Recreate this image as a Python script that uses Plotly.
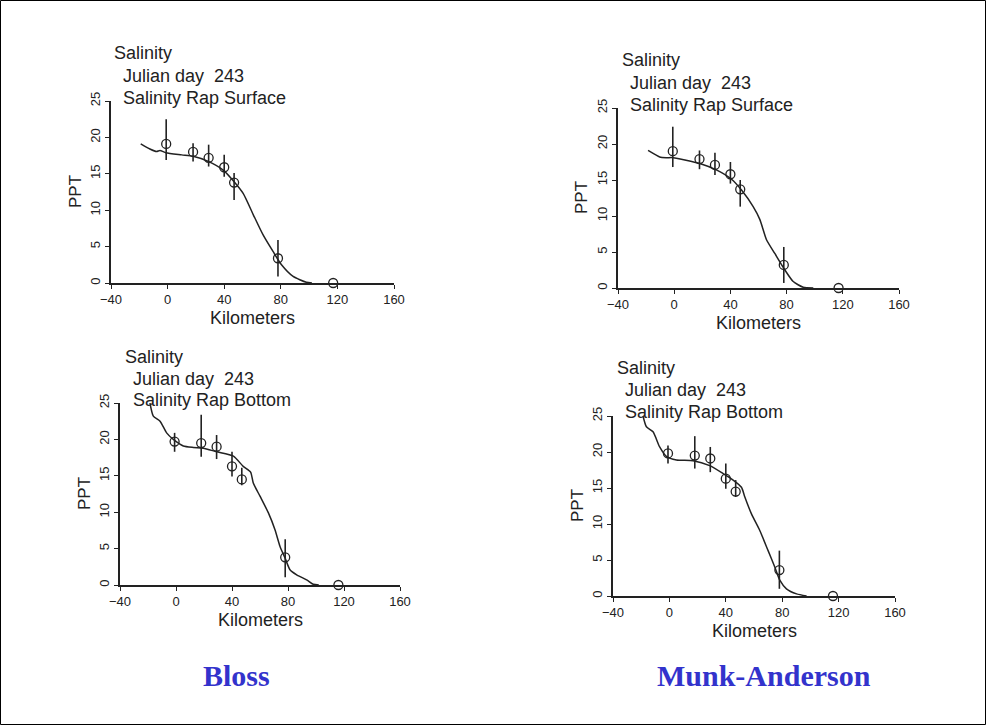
import plotly.graph_objects as go

W, H = 987, 726

# ---------------- data ----------------
x_ticks = [-40, 0, 40, 80, 120, 160]
y_ticks = [0, 5, 10, 15, 20, 25]

surf_obs_x = [-1, 18, 29, 40, 47, 78, 117]
bot_obs_x = [-1, 18, 29, 40, 47, 78, 116]

# Bloss, surface
bs_obs_y = [19.1, 18.0, 17.2, 15.9, 13.8, 3.4, 0.0]
bs_obs_hi = [22.5, 19.2, 19.0, 17.6, 15.1, 5.9, 0.0]
bs_obs_lo = [16.9, 16.7, 16.0, 14.6, 11.4, 0.9, 0.0]
bs_mod_x = [-19, -12.5, -7.8, -5.4, -1.2, 10, 18, 28.7, 39.3, 47, 53.4, 60.5, 67.5, 74.6, 80.5, 88.7, 98, 102]
bs_mod_y = [19.1, 18.4, 18.05, 18.2, 17.9, 17.6, 17.4, 16.7, 15.5, 13.9, 12.3, 9.4, 6.6, 4.3, 2.5, 0.9, 0.1, 0.0]

# Munk-Anderson, surface
ms_obs_y = [19.0, 17.9, 17.1, 15.8, 13.7, 3.2, 0.0]
ms_obs_hi = [22.4, 19.1, 18.8, 17.5, 15.0, 5.7, 0.0]
ms_obs_lo = [16.8, 16.5, 15.7, 14.5, 11.3, 0.7, 0.0]
ms_mod_x = [-18.6, -10.3, -5.6, -0.8, 18.2, 30, 40.8, 47.9, 56.2, 61, 65.7, 71.6, 78.8, 84.7, 91.8, 99]
ms_mod_y = [19.1, 18.2, 18.1, 18.1, 17.3, 16.4, 15.1, 13.6, 11.3, 9.5, 6.7, 4.8, 2.5, 0.9, 0.1, 0.0]

# Bloss, bottom
bb_obs_y = [19.7, 19.5, 19.0, 16.3, 14.5, 3.8, 0.0]
bb_obs_hi = [20.9, 23.4, 20.6, 18.3, 16.1, 6.3, 0.0]
bb_obs_lo = [18.3, 17.6, 17.3, 14.9, 13.7, 1.05, 0.0]
bb_mod_x = [-18.6, -16.2, -11.4, -6.7, -1.9, 5.2, 12.4, 19.5, 29, 41, 48, 53.3, 55.2, 60, 66, 70.7, 74.3, 77.9, 81.4, 86.2, 93.3, 98, 102]
bb_mod_y = [25, 23.2, 22.5, 20.9, 20.0, 19.1, 18.9, 18.8, 18.3, 17.7, 16.3, 15.5, 14.0, 12.2, 9.9, 7.6, 5.3, 3.7, 2.1, 1.4, 0.7, 0.1, 0.0]

# Munk-Anderson, bottom
mb_obs_y = [19.8, 19.5, 19.1, 16.3, 14.5, 3.6, 0.0]
mb_obs_hi = [20.9, 22.2, 20.7, 18.4, 16.1, 6.3, 0.0]
mb_obs_lo = [18.4, 17.7, 17.2, 14.9, 13.75, 1.0, 0.0]
mb_mod_x = [-18.7, -16.3, -11.6, -6.9, -2.2, 5, 16.8, 28.6, 38.1, 45.2, 51.1, 53.5, 58.2, 64.1, 70, 74.8, 78.3, 83, 90.2, 97.3]
mb_mod_y = [25, 23.5, 22.8, 20.7, 19.4, 18.9, 18.8, 18.1, 17.0, 16.1, 15.1, 13.75, 11.4, 9.1, 6.3, 4.0, 2.2, 1.0, 0.3, 0.0]

panel_titles = [
    ["Salinity", "Julian day\u00a0 243", "Salinity Rap Surface"],
    ["Salinity", "Julian day\u00a0 243", "Salinity Rap Surface"],
    ["Salinity", "Julian day\u00a0 243", "Salinity Rap Bottom"],
    ["Salinity", "Julian day\u00a0 243", "Salinity Rap Bottom"],
]
method_labels = ["Bloss", "Munk-Anderson"]

# ---------------- layout helpers ----------------
def fx(px):
    return px / W

def fy(py):
    return 1 - py / H

# pixel boxes: x_left, x_right, y_top, y_bottom
boxes = [
    (111, 394, 101, 283),
    (618, 899, 108, 288),
    (120, 400, 403, 585),
    (613, 895, 416, 596),
]
# title anchor pixels: (first line x, other lines x, y of three lines)
title_pos = [
    (112, 121, [53, 76, 98]),
    (620, 628, [60, 83, 105]),
    (123, 131, [357, 379, 400]),
    (615, 623, [368, 390, 412]),
]

series = [
    (surf_obs_x, bs_obs_y, bs_obs_hi, bs_obs_lo, bs_mod_x, bs_mod_y),
    (surf_obs_x, ms_obs_y, ms_obs_hi, ms_obs_lo, ms_mod_x, ms_mod_y),
    (bot_obs_x, bb_obs_y, bb_obs_hi, bb_obs_lo, bb_mod_x, bb_mod_y),
    (bot_obs_x, mb_obs_y, mb_obs_hi, mb_obs_lo, mb_mod_x, mb_mod_y),
]

INK = "#222222"
FONT = "Liberation Sans"

fig = go.Figure()
annotations = []
layout = {}

for i, (box, s, tp, titles) in enumerate(zip(boxes, series, title_pos, panel_titles)):
    n = i + 1
    xa = "x" if n == 1 else f"x{n}"
    ya = "y" if n == 1 else f"y{n}"
    ox, oy, hi, lo, mx, my = s
    err_plus = [h - v for h, v in zip(hi, oy)]
    err_minus = [v - l for v, l in zip(oy, lo)]

    fig.add_trace(go.Scatter(
        x=mx, y=my, mode="lines", xaxis=xa, yaxis=ya,
        line=dict(color=INK, width=1.5, shape="spline", smoothing=0.6),
        showlegend=False, hoverinfo="skip"))
    fig.add_trace(go.Scatter(
        x=ox, y=oy, mode="markers", xaxis=xa, yaxis=ya,
        marker=dict(symbol="circle-open", size=9, color=INK, line=dict(width=1.3, color=INK)),
        error_y=dict(type="data", array=err_plus, arrayminus=err_minus,
                     color=INK, thickness=1.6, width=0),
        cliponaxis=False, showlegend=False))

    x0, x1, yt, yb = box
    axkey_x = "xaxis" if n == 1 else f"xaxis{n}"
    axkey_y = "yaxis" if n == 1 else f"yaxis{n}"
    common = dict(showline=True, linecolor=INK, linewidth=1.5, ticks="outside",
                  ticklen=4, tickwidth=1.3, tickcolor=INK, showgrid=False,
                  zeroline=False, fixedrange=True, automargin=False,
                  tickfont=dict(family=FONT, size=13, color=INK))
    layout[axkey_x] = dict(domain=[fx(x0), fx(x1)], range=[-40, 160],
                           tickvals=x_ticks, anchor=ya, **common)
    layout[axkey_y] = dict(domain=[fy(yb), fy(yt)], range=[0, 25],
                           tickvals=y_ticks, anchor=xa, tickangle=-90, **common)

    # axis titles
    annotations.append(dict(text="Kilometers", xref="paper", yref="paper",
                            x=fx((x0 + x1) / 2), y=fy(yb + 35), showarrow=False,
                            xanchor="center", yanchor="middle",
                            font=dict(family=FONT, size=18, color=INK)))
    annotations.append(dict(text="PPT", xref="paper", yref="paper",
                            x=fx(x0 - 36), y=fy((yt + yb) / 2), showarrow=False,
                            textangle=-90, xanchor="center", yanchor="middle",
                            font=dict(family=FONT, size=17, color=INK)))
    # panel titles
    fxp, oxp, ys = tp
    for j, (t, yy) in enumerate(zip(titles, ys)):
        annotations.append(dict(text=t, xref="paper", yref="paper",
                                x=fx(fxp if j == 0 else oxp), y=fy(yy),
                                showarrow=False, xanchor="left", yanchor="middle",
                                font=dict(family=FONT, size=18, color=INK)))

# method labels
for lbl, cx in zip(method_labels, [236, 764]):
    annotations.append(dict(text=f"<b>{lbl}</b>", xref="paper", yref="paper",
                            x=fx(cx), y=fy(675), showarrow=False,
                            xanchor="center", yanchor="middle",
                            font=dict(family="Liberation Serif", size=30, color="#3333cc")))

fig.update_layout(
    width=W, height=H,
    margin=dict(l=0, r=0, t=0, b=0, autoexpand=False),
    paper_bgcolor="white", plot_bgcolor="white",
    annotations=annotations,
    shapes=[dict(type="rect", xref="paper", yref="paper",
                 x0=fx(0.5), x1=fx(985.5), y0=fy(724.5), y1=fy(0.5),
                 line=dict(color="black", width=1))],
    **layout,
)

fig.write_html("out.html")
